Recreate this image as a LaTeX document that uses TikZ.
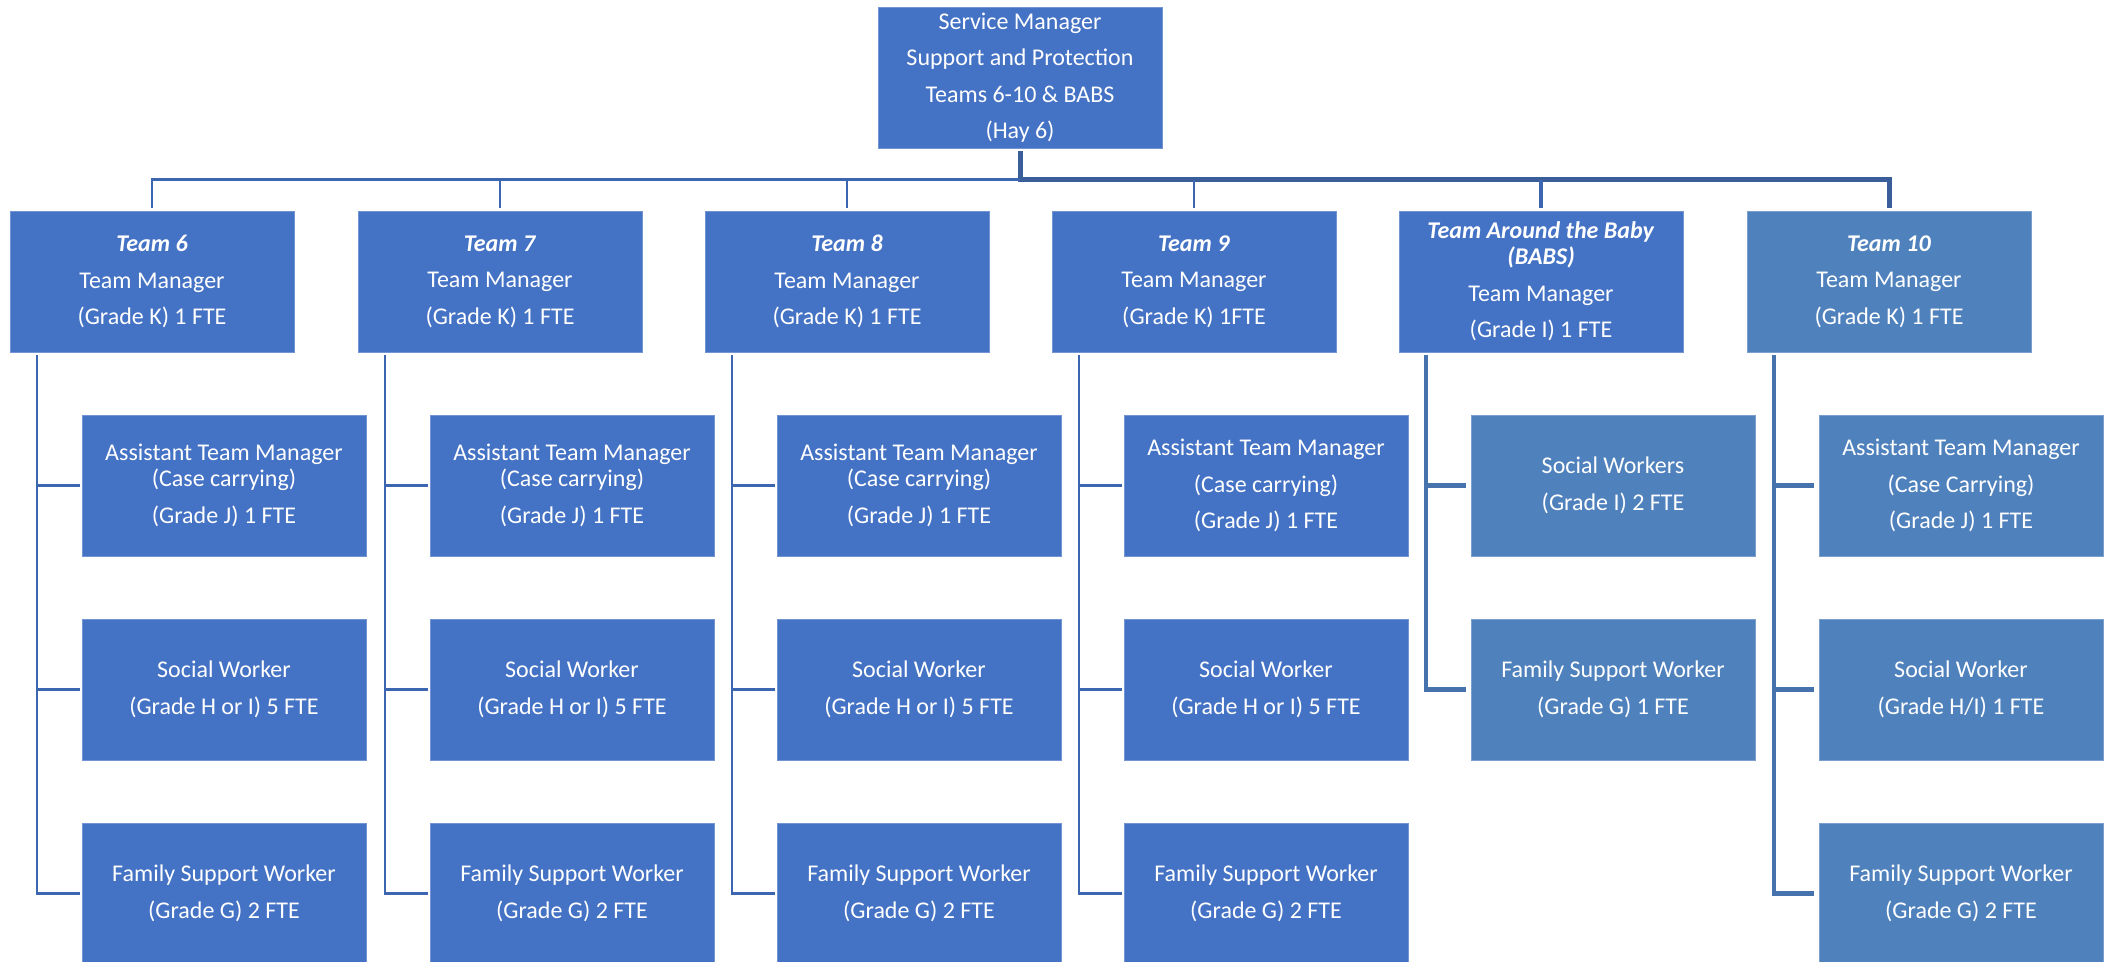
\documentclass[tikz,border=0pt]{standalone}
\usepackage{fontspec}
\setmainfont{Carlito}
\definecolor{boxA}{HTML}{4472C4}
\definecolor{boxB}{HTML}{4F81BD}
\definecolor{lnthin}{HTML}{3C66B0}
\definecolor{lnthick}{HTML}{3A5E99}
\definecolor{lnmid}{HTML}{4672AE}
\begin{document}
\begin{tikzpicture}[x=1pt,y=-1pt,
  box/.style={rectangle, minimum width=284pt, minimum height=141pt, inner sep=0pt,
    fill=boxA, draw=boxA!75!white, line width=0.8pt, text=white, align=center,
    font=\fontsize{24}{36.5}\selectfont},
  boxb/.style={box, fill=boxB, draw=boxB!75!white},
  thinln/.style={draw=lnthin, line width=2.7pt},
  thickln/.style={draw=lnthick, line width=5pt},
  midln/.style={draw=lnmid, line width=4.5pt},
  hd/.style={}]
\useasboundingbox (0,0) rectangle (2109,961);
% top
\node[box] (top) at (1020,77.5) {Service Manager\\Support and Protection\\Teams 6-10 \& BABS\\(Hay 6)};
% team boxes
\node[box] (t6) at (152,281.5) {\textbf{\textit{Team 6}}\\Team Manager\\(Grade K) 1 FTE};
\node[box] (t7) at (500,281.5) {\textbf{\textit{Team 7}}\\Team Manager\\(Grade K) 1 FTE};
\node[box] (t8) at (847,281.5) {\textbf{\textit{Team 8}}\\Team Manager\\(Grade K) 1 FTE};
\node[box] (t9) at (1194,281.5) {\textbf{\textit{Team 9}}\\Team Manager\\(Grade K) 1FTE};
\node[box] (tb) at (1541,281.5) {\textbf{\textit{Team Around the Baby}}\\[-10.5pt]\textbf{\textit{(BABS)}}\\Team Manager\\(Grade I) 1 FTE};
\node[boxb] (t10) at (1889,281.5) {\textbf{\textit{Team 10}}\\Team Manager\\(Grade K) 1 FTE};
% children team 6
\node[box] (a6) at (224,485.5) {Assistant Team Manager\\[-10.5pt](Case carrying)\\(Grade J) 1 FTE};
\node[box] (s6) at (224,689.5) {Social Worker\\(Grade H or I) 5 FTE};
\node[box] (f6) at (224,893.5) {Family Support Worker\\(Grade G) 2 FTE};
% team 7
\node[box] (a7) at (572,485.5) {Assistant Team Manager\\[-10.5pt](Case carrying)\\(Grade J) 1 FTE};
\node[box] (s7) at (572,689.5) {Social Worker\\(Grade H or I) 5 FTE};
\node[box] (f7) at (572,893.5) {Family Support Worker\\(Grade G) 2 FTE};
% team 8
\node[box] (a8) at (919,485.5) {Assistant Team Manager\\[-10.5pt](Case carrying)\\(Grade J) 1 FTE};
\node[box] (s8) at (919,689.5) {Social Worker\\(Grade H or I) 5 FTE};
\node[box] (f8) at (919,893.5) {Family Support Worker\\(Grade G) 2 FTE};
% team 9
\node[box] (a9) at (1266,485.5) {Assistant Team Manager\\(Case carrying)\\(Grade J) 1 FTE};
\node[box] (s9) at (1266,689.5) {Social Worker\\(Grade H or I) 5 FTE};
\node[box] (f9) at (1266,893.5) {Family Support Worker\\(Grade G) 2 FTE};
% BABS
\node[boxb] (sb) at (1613,485.5) {Social Workers\\(Grade I) 2 FTE};
\node[boxb] (fb) at (1613,689.5) {Family Support Worker\\(Grade G) 1 FTE};
% team 10
\node[boxb] (a10) at (1961,485.5) {Assistant Team Manager\\(Case Carrying)\\(Grade J) 1 FTE};
\node[boxb] (s10) at (1961,689.5) {Social Worker\\(Grade H/I) 1 FTE};
\node[boxb] (f10) at (1961,893.5) {Family Support Worker\\(Grade G) 2 FTE};
% bus
\coordinate (bus) at (1020,179.5);
\draw[thickln, shorten >=3pt] (top.south) ++(0,3) -- (bus) -| (t10.north);
\draw[thinln, shorten >=3pt] (bus) -| (t6.north);
\draw[thinln, shorten <=3pt] (t7.north) -- (t7.north |- bus);
\draw[thinln, shorten <=3pt] (t8.north) -- (t8.north |- bus);
\draw[thinln, shorten <=3pt] (t9.north) -- (t9.north |- bus);
\draw[thinln, line width=3.5pt, shorten <=3pt] (tb.north) -- (tb.north |- bus);
% child verticals
\coordinate (v6) at (37,355);
\coordinate (v7) at (385,355);
\coordinate (v8) at (732,355);
\coordinate (v9) at (1079,355);
\coordinate (vb) at (1426,355);
\coordinate (v10) at (1774,355);
\foreach \v/\a/\s/\f in {v6/a6/s6/f6, v7/a7/s7/f7, v8/a8/s8/f8, v9/a9/s9/f9}{
  \draw[thinln, shorten >=2pt] (\v) |- (\f.west);
  \draw[thinln, shorten >=2pt] (\v |- \a.west) -- (\a.west);
  \draw[thinln, shorten >=2pt] (\v |- \s.west) -- (\s.west);
}
\draw[midln, shorten >=5pt] (vb) |- (fb.west);
\draw[midln, shorten >=5pt] (vb |- sb.west) -- (sb.west);
\draw[midln, shorten >=5pt] (v10) |- (f10.west);
\draw[midln, shorten >=5pt] (v10 |- a10.west) -- (a10.west);
\draw[midln, shorten >=5pt] (v10 |- s10.west) -- (s10.west);
\end{tikzpicture}
\end{document}
